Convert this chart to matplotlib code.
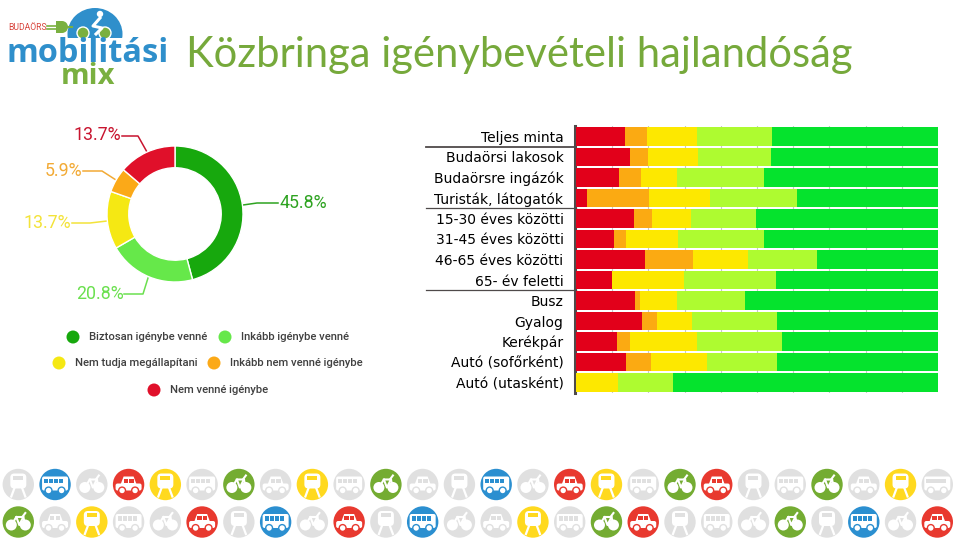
import matplotlib
matplotlib.use("Agg")
import matplotlib.pyplot as plt
from matplotlib.patches import Circle, Rectangle, FancyBboxPatch, Polygon, Wedge, Ellipse

# donut values, clockwise from 12 o'clock
donut_names = ["Biztosan igénybe venné", "Inkább igénybe venné", "Nem tudja megállapítani",
               "Inkább nem venné igénybe", "Nem venné igénybe"]
donut_values = [45.8, 20.8, 13.7, 5.9, 13.7]
donut_labels = ["45.8%", "20.8%", "13.7%", "5.9%", "13.7%"]
donut_colors = ["#17A80D", "#66E84A", "#F5E813", "#FBA918", "#E0102A"]
label_colors = ["#2EA321", "#6BE04F", "#F3E33A", "#F2AA35", "#C8142F"]

# stacked bars
groups = ["Teljes minta", "Budaörsi lakosok", "Budaörsre ingázók", "Turisták, látogatók",
          "15-30 éves közötti", "31-45 éves közötti", "46-65 éves közötti", "65- év feletti",
          "Busz", "Gyalog", "Kerékpár", "Autó (sofőrként)", "Autó (utasként)"]
red = [13.4, 14.8, 11.9, 3.0, 16.0, 10.6, 19.0, 9.9, 16.2, 18.2, 11.3, 13.7, 0]
orange = [6.2, 5.2, 6.1, 17.1, 4.9, 3.2, 13.3, 0, 1.4, 4.1, 3.5, 6.9, 0]
yellow = [13.9, 13.8, 9.9, 16.9, 10.8, 14.4, 15.1, 19.9, 10.2, 9.7, 18.7, 15.5, 11.6]
lime = [20.6, 20.2, 24.1, 24.0, 17.9, 23.8, 19.1, 25.4, 19.0, 23.4, 23.3, 19.3, 15.1]
green = [45.9, 45.9, 48.1, 39.0, 50.3, 48.0, 33.4, 44.8, 53.1, 44.5, 43.1, 44.5, 73.3]
bar_colors = ["#E2001A", "#FBAA12", "#FDE800", "#AEFB30", "#05E32D"]

# bottom icon strips
row1_kind = ["train", "bus", "bike", "car", "train", "bus", "bike", "car", "train", "bus", "bike", "car", "train",
             "bus", "bike", "car", "train", "bus", "bike", "car", "train", "bus", "bike", "car", "train", "bus"]
row1_col = ["g", "b", "g", "r", "y", "g", "v", "g", "y", "g", "v", "g", "g",
            "b", "g", "r", "y", "g", "v", "r", "g", "g", "v", "g", "y", "g"]
row2_kind = ["bike", "car", "train", "bus", "bike", "car", "train", "bus", "bike", "car", "train", "bus", "bike",
             "car", "train", "bus", "bike", "car", "train", "bus", "bike", "bike", "train", "bus", "bike", "car"]
row2_col = ["v", "g", "y", "g", "g", "r", "g", "b", "g", "r", "g", "b", "g",
            "g", "y", "g", "v", "r", "g", "g", "g", "v", "g", "b", "g", "r"]
icon_cols = {"g": "#E0E0E0", "b": "#2B8FD0", "r": "#E8392F", "y": "#FFD91F", "v": "#74AC32"}

TEXT = "#404040"

fig = plt.figure(figsize=(9.6, 5.4), dpi=100)
bg = fig.add_axes([0, 0, 1, 1])
bg.set_xlim(0, 960)
bg.set_ylim(540, 0)
bg.axis("off")


def draw_train(x, y, c):
    w = "white"
    bg.add_patch(FancyBboxPatch((x - 8, y - 11), 16, 15, boxstyle="round,pad=0,rounding_size=4", fc=w, ec="none"))
    bg.add_patch(Rectangle((x - 5, y - 9), 10, 4, fc=c, ec="none"))
    bg.plot([x - 4, x - 7], [y + 4, y + 12], color=w, lw=1.6)
    bg.plot([x + 4, x + 7], [y + 4, y + 12], color=w, lw=1.6)


def draw_bus(x, y, c):
    w = "white"
    bg.add_patch(FancyBboxPatch((x - 13, y - 8), 26, 14, boxstyle="round,pad=0,rounding_size=2", fc=w, ec="none"))
    for dx in (-11, -6, -1, 4):
        bg.add_patch(Rectangle((x + dx, y - 6), 4.2, 4.5, fc=c, ec="none"))
    for dx in (-6.5, 6.5):
        bg.add_patch(Circle((x + dx, y + 6), 3.4, fc=w, ec=c, lw=1))


def draw_car(x, y, c):
    w = "white"
    bg.add_patch(FancyBboxPatch((x - 13, y - 1), 26, 7, boxstyle="round,pad=0,rounding_size=2", fc=w, ec="none"))
    bg.add_patch(Polygon([(x - 8, y), (x - 5, y - 8), (x + 5, y - 8), (x + 8, y)], fc=w, ec="none"))
    bg.add_patch(Rectangle((x - 5, y - 6), 4.4, 4, fc=c, ec="none"))
    bg.add_patch(Rectangle((x + 0.6, y - 6), 4.4, 4, fc=c, ec="none"))
    for dx in (-6.5, 6.5):
        bg.add_patch(Circle((x + dx, y + 6), 3.4, fc=w, ec=c, lw=1))


def draw_bike(x, y, c):
    w = "white"
    bg.add_patch(Circle((x - 7, y + 3), 5.5, fc=w, ec="none"))
    bg.add_patch(Circle((x + 7, y + 3), 5.5, fc=w, ec="none"))
    bg.plot([x - 7, x - 2, x + 5, x + 7], [y + 3, y - 5, y - 5, y + 3], color=w, lw=1.5)
    bg.plot([x - 2, x + 1, x + 5], [y - 5, y + 3, y - 5], color=w, lw=1.5)
    bg.plot([x + 4, x + 7], [y - 5, y - 9], color=w, lw=1.5)


draw_icon = {"train": draw_train, "bus": draw_bus, "car": draw_car, "bike": draw_bike}

for row_y, kinds, cols in [(484.5, row1_kind, row1_col), (522, row2_kind, row2_col)]:
    for i, (kind, col) in enumerate(zip(kinds, cols)):
        cx = 18.3 + i * 36.76
        bg.add_patch(Circle((cx, row_y), 15.7, fc=icon_cols[col], ec="none"))
        draw_icon[kind](cx, row_y, icon_cols[col])

# logo
bg.text(8, 27, "BUDAÖRS", color="#D8443C", fontsize=6.2, family="Roboto", va="center", ha="left")
bg.plot([47, 58], [25.5, 25.5], color="#7AB040", lw=1.2)
bg.plot([47, 58], [29, 29], color="#7AB040", lw=1.2)
bg.add_patch(Wedge((62, 27), 6, 270, 90, fc="#7AB040", ec="none"))
bg.add_patch(Rectangle((56, 21), 6, 12, fc="#7AB040", ec="none"))
bg.plot([67, 72], [27, 27], color="#7AB040", lw=1.5)
bg.add_patch(Ellipse((95, 34), 55, 52, fc="#2F8FCB", ec="none"))
bg.add_patch(Rectangle((66, 38), 58, 24, fc="white", ec="none"))
bg.add_patch(Circle((100, 14), 3.2, fc="white", ec="none"))
bg.plot([100, 93, 102, 96], [18, 26, 28, 34], color="white", lw=2.2)
bg.add_patch(Circle((83, 33), 6, fc="#7AB040", ec="white", lw=1))
bg.add_patch(Circle((105, 33), 6, fc="#7AB040", ec="white", lw=1))
bg.text(87.5, 62, "mobilitási", color="#2F8FCB", fontsize=23.4, family="Open Sans", weight="bold",
        ha="center", va="baseline")
bg.text(88, 84, "mix", color="#7AB040", fontsize=21, family="Open Sans", weight="bold",
        ha="center", va="baseline")

bg.text(186, 55, "Közbringa igénybevételi hajlandóság", color="#76A93B", fontsize=30.1, family="Lato",
        ha="left", va="center")

# donut
dn = fig.add_axes([(175 - 68) / 960, 1 - (214 + 68) / 540, 136 / 960, 136 / 540])
dn.pie(donut_values, colors=donut_colors, startangle=90, counterclock=False, radius=1,
       wedgeprops={"width": 0.32, "edgecolor": "white", "linewidth": 1})
dn.set_xlim(-1, 1)
dn.set_ylim(-1, 1)

leaders = [[(243, 205), (257, 203), (278, 203)],
           [(148, 278), (143, 294), (124, 294)],
           [(107, 221), (90, 223), (72, 223)],
           [(116, 180), (102, 171), (83, 171)],
           [(147, 152), (138, 136), (122, 136)]]
label_pos = [(280, 203, "left"), (124, 294, "right"), (71, 223, "right"), (82, 171, "right"), (121, 135, "right")]
for pts, lab, col, (tx, ty, ha) in zip(leaders, donut_labels, label_colors, label_pos):
    bg.plot([p[0] for p in pts], [p[1] for p in pts], color=col, lw=1.1)
    bg.text(tx, ty, lab, color=col, fontsize=12.8, family="Roboto", ha=ha, va="center")

# donut legend
legend_pos = [(73, 337), (225, 337), (59, 363), (214, 363), (154, 390)]
for name, col, (lx, ly) in zip(donut_names, donut_colors, legend_pos):
    bg.add_patch(Circle((lx, ly), 6.5, fc=col, ec="none"))
    bg.text(lx + 16, ly, name, color=TEXT, fontsize=8.1, family="Roboto", weight="medium", ha="left", va="center")

# stacked bars
ax = fig.add_axes([576 / 960, 1 - 393 / 540, (938 - 576) / 960, (393 - 126) / 540])
ax.patch.set_alpha(0)
ypos = list(range(len(groups)))
left = [0] * len(groups)
for vals, col in zip([red, orange, yellow, lime, green], bar_colors):
    ax.barh(ypos, vals, left=left, height=0.9, color=col, zorder=3)
    left = [a + b for a, b in zip(left, vals)]
ax.set_xlim(0, 100)
ax.set_ylim(len(groups) - 0.5, -0.5)
ax.set_yticks(ypos)
ax.set_yticklabels(groups, fontsize=12, family="Roboto", color=TEXT)
ax.set_xticks(range(0, 101, 10))
ax.set_xticklabels([])
ax.tick_params(axis="both", length=0, pad=8)
ax.grid(axis="x", color="#C8C8C8", lw=0.8, zorder=0)
for s in ["top", "right", "bottom"]:
    ax.spines[s].set_visible(False)
ax.spines["left"].set_color("#4F4A4A")
ax.spines["left"].set_linewidth(2.2)
ax.spines["left"].set_position(("outward", 1))

# separators between the groups of rows
for row, lw in [(0.5, 1.3), (3.5, 0.9), (7.5, 0.9)]:
    ax.plot([-41.5, 0], [row, row], color="#4F4A4A", lw=lw, clip_on=False)

fig.savefig("out.png", dpi=100)
